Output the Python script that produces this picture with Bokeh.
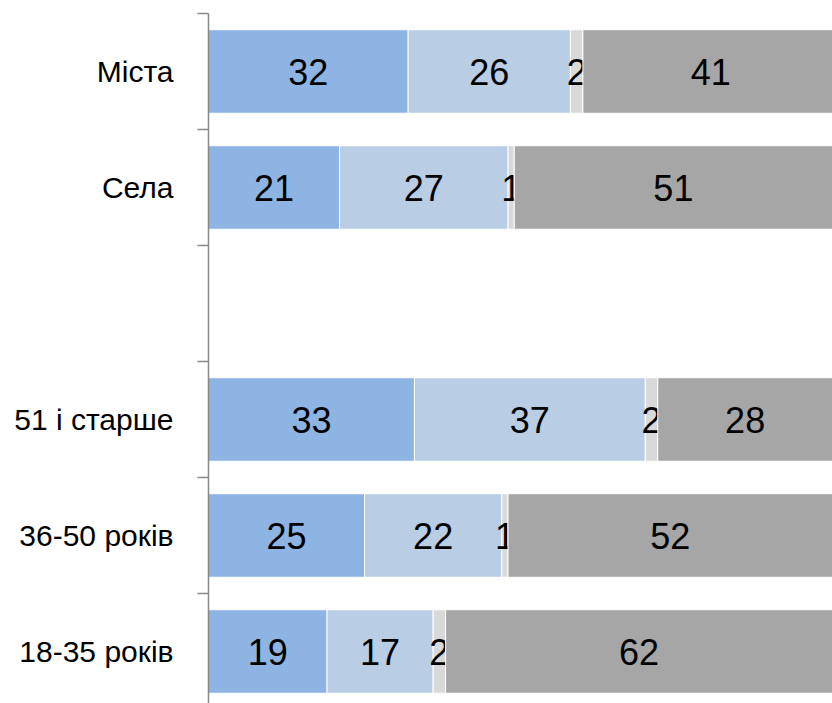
import numpy as np
from bokeh.plotting import figure
from bokeh.models import ColumnDataSource, FixedTicker, Range1d
from bokeh.core.properties import value
from bokeh.embed import file_html
from bokeh.resources import INLINE

# categories from bottom to top ("" is the empty gap row)
categories = ["18-35 років", "36-50 років", "51 і старше", "", "Села", "Міста"]
series_1 = [19, 25, 33, None, 21, 32]
series_2 = [17, 22, 37, None, 27, 26]
series_3 = [2, 1, 2, None, 1, 2]
series_4 = [62, 52, 28, None, 51, 41]
colors = ["#8EB4E3", "#B9CDE5", "#D9D9D9", "#A6A6A6"]

series = [series_1, series_2, series_3, series_4]
n = len(categories)
ypos = np.arange(n) + 0.5

W, H = 832, 703
top, leftb = 13, 208
p = figure(width=W, height=H, output_backend="svg", toolbar_location=None,
           x_range=Range1d(0, (W - leftb) / 6.24),
           y_range=Range1d(6 - (H - top) / 116, 6),
           min_border_left=leftb, min_border_right=0, min_border_top=top, min_border_bottom=0)
p.outline_line_color = None
p.xgrid.visible = False
p.ygrid.visible = False
p.xaxis.visible = False
p.background_fill_color = "white"
p.border_fill_color = "white"

idx = [i for i in range(n) if series_1[i] is not None]
left = np.zeros(len(idx))
for s, c in zip(series, colors):
    vals = np.array([s[i] for i in idx], dtype=float)
    src = ColumnDataSource(dict(y=ypos[idx], left=left, right=left + vals,
                                mid=left + vals / 2, txt=[str(int(v)) for v in vals]))
    p.hbar(y="y", left="left", right="right", height=0.72, source=src,
           fill_color=c, line_color="white", line_width=1)
    p.text(x="mid", y="y", text="txt", source=src, text_align="center",
           text_baseline="middle", text_color="black",
           text_font=value("Liberation Sans"), text_font_size="36px")
    left = left + vals

ax = p.yaxis[0]
ax.ticker = FixedTicker(ticks=list(ypos), minor_ticks=list(range(0, n + 1)))
ax.major_label_overrides = {float(y): c for y, c in zip(ypos, categories)}
ax.major_tick_out = 0
ax.major_tick_in = 0
ax.minor_tick_out = 11
ax.minor_tick_in = 0
ax.minor_tick_line_color = "#888888"
ax.minor_tick_line_width = 1.5
ax.axis_line_color = "#888888"
ax.axis_line_width = 1.5
ax.major_label_standoff = 24
ax.major_label_text_font = "Liberation Sans"
ax.major_label_text_font_size = "30px"
ax.major_label_text_color = "black"

open("out.html", "w").write(file_html(p, INLINE))
